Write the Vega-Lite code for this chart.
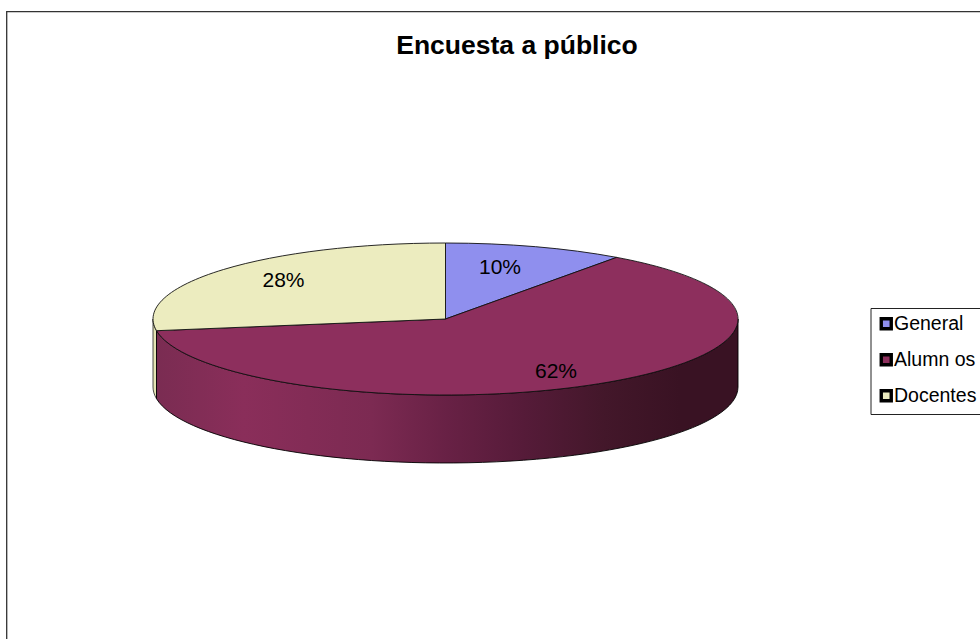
{"$schema":"https://vega.github.io/schema/vega-lite/v6.json","autosize":"none","padding":{"left":6.5,"top":11.5,"right":0,"bottom":0},"width":1021,"height":640,"background":"white","view":{"stroke":"#333333","strokeWidth":1.3,"fill":"white"},"title":{"text":"Encuesta a público","font":"Liberation Sans","fontSize":26.5,"fontWeight":"bold","color":"black","anchor":"middle","offset":-47.5,"frame":"group"},"data":{"values":[{"segmento":"General","porcentaje":0.10},{"segmento":"Alumn os","porcentaje":0.62},{"segmento":"Docentes","porcentaje":0.28}]},"layer":[{"transform":[{"filter":"datum.segmento==='Docentes'"}],"mark":{"type":"point","filled":true,"opacity":1,"size":4,"fill":"#E4E4B4","stroke":"#222222","strokeWidth":0.8,"shape":"M-364,-12.5 A292.5,76 0 0 0 -360.5,-0.8 L-360.5,67.2 A292.5,76 0 0 1 -364,55.5 Z"}},{"transform":[{"filter":"datum.segmento==='Alumn os'"}],"mark":{"type":"point","filled":true,"opacity":1,"size":4,"stroke":"black","strokeWidth":0.9,"shape":"M-360.5,-0.8 A292.5,76 0 0 0 221,-12.5 L221,55.5 A292.5,76 0 0 1 -360.5,67.2 Z","fill":{"gradient":"linear","x1":0,"y1":0,"x2":1,"y2":0,"stops":[{"offset":0,"color":"#7A2C52"},{"offset":0.15,"color":"#8A2E5A"},{"offset":0.37,"color":"#7C2A52"},{"offset":0.5,"color":"#682145"},{"offset":0.63,"color":"#561B39"},{"offset":0.77,"color":"#43172A"},{"offset":0.9,"color":"#391223"},{"offset":1,"color":"#391223"}]}}},{"transform":[{"filter":"datum.segmento==='General'"}],"mark":{"type":"point","filled":true,"opacity":1,"size":4,"stroke":"#111111","strokeWidth":0.9,"shape":"M-71.5,-12.5 L-71.5,-88.5 A292.5,76 0 0 1 99.7,-74.12 Z"},"encoding":{"color":{"field":"segmento","type":"nominal","sort":null,"scale":{"domain":["General","Alumn os","Docentes"],"range":["#8F8FEE","#8D2F5D","#ECECBF"]},"legend":{"title":null,"orient":"none","legendX":864,"legendY":296.5,"strokeColor":"#222222","fillColor":"white","padding":6,"labelFont":"Liberation Sans","labelFontSize":19.5,"labelColor":"black","labelOffset":-2,"labelLimit":200,"symbolType":"square","symbolSize":100,"symbolStrokeColor":"black","symbolStrokeWidth":3.4,"symbolOpacity":1,"rowPadding":11,"values":["General","Alumn os","Docentes"]}}}},{"transform":[{"filter":"datum.segmento==='Alumn os'"}],"mark":{"type":"point","filled":true,"opacity":1,"size":4,"stroke":"#111111","strokeWidth":0.9,"shape":"M-71.5,-12.5 L99.7,-74.12 A292.5,76 0 1 1 -360.5,-0.8 Z"},"encoding":{"color":{"field":"segmento","type":"nominal","sort":null,"scale":{"domain":["General","Alumn os","Docentes"]},"legend":null}}},{"transform":[{"filter":"datum.segmento==='Docentes'"}],"mark":{"type":"point","filled":true,"opacity":1,"size":4,"stroke":"#111111","strokeWidth":0.9,"shape":"M-71.5,-12.5 L-360.5,-0.8 A292.5,76 0 0 1 -71.5,-88.5 Z"},"encoding":{"color":{"field":"segmento","type":"nominal","sort":null,"scale":{"domain":["General","Alumn os","Docentes"]},"legend":null}}},{"mark":{"type":"text","font":"Liberation Sans","fontSize":21,"color":"black","align":"center","baseline":"middle"},"encoding":{"x":{"field":"porcentaje","type":"quantitative","axis":null,"scale":{"domain":[0.1,0.28,0.62],"range":[493.5,277,549.5]}},"y":{"field":"porcentaje","type":"quantitative","axis":null,"scale":{"domain":[0.1,0.28,0.62],"range":[256.5,269.5,360.5]}},"text":{"field":"porcentaje","type":"quantitative","format":".0%"}}}]}
